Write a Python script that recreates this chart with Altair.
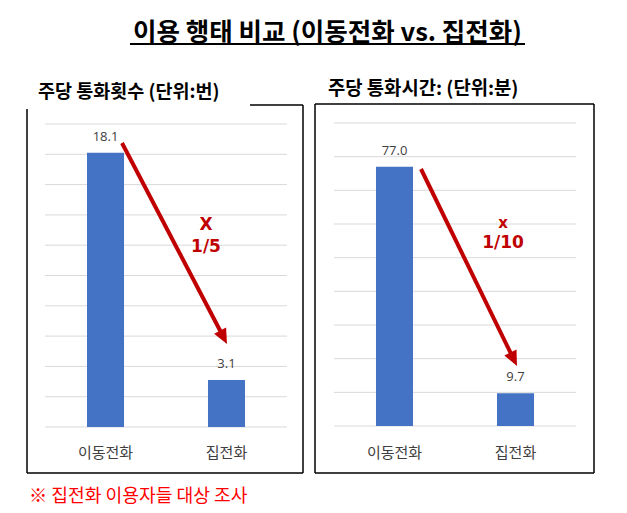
import altair as alt
import pandas as pd

# ---- data ----
categories = ["이동전화", "집전화"]
calls_per_week = [18.1, 3.1]
minutes_per_week = [77.0, 9.7]
calls_ticks = [0, 2, 4, 6, 8, 10, 12, 14, 16, 18, 20]
minutes_ticks = [0, 10, 20, 30, 40, 50, 60, 70, 80, 90]

main_title = "이용 행태 비교 (이동전화 vs. 집전화)"
left_title = "주당 통화횟수 (단위:번)"
right_title = "주당 통화시간: (단위:분)"
left_note = ["X", "1/5"]
right_note = ["x", "1/10"]
footnote = "※ 집전화 이용자들 대상 조사"

BLUE = "#4472C4"
DARKRED = "#C00000"
GRID = "#D9D9D9"
KR = "Noto Sans CJK KR"

one = pd.DataFrame({"d": [0]})


def panel(values, ticks, xr, yr, dmax):
    df = pd.DataFrame({"cat": categories, "val": values,
                       "lab": [f"{v:.1f}" for v in values]})
    tdf = pd.DataFrame({"t": ticks})
    xs = alt.Scale(domain=categories, range=xr, paddingInner=0.694, paddingOuter=0.347)
    ys = alt.Scale(domain=[0, dmax], range=yr, nice=False, zero=True)
    grid = alt.Chart(tdf).mark_rule(color=GRID, strokeWidth=1).encode(
        y=alt.Y("t:Q", scale=ys, axis=None),
        x=alt.value(xr[0]), x2=alt.value(xr[1]))
    bars = alt.Chart(df).mark_bar(color=BLUE).encode(
        x=alt.X("cat:N", scale=xs, axis=None, sort=categories),
        y=alt.Y("val:Q", scale=ys, axis=None))
    labels = alt.Chart(df).mark_text(font="Open Sans", fontSize=13, color="#404040",
                                     baseline="middle", dy=-16).encode(
        x=alt.X("cat:N", scale=xs, axis=None, sort=categories),
        y=alt.Y("val:Q", scale=ys, axis=None),
        text="lab:N")
    cats = alt.Chart(df).mark_text(font=KR, fontSize=15, color="#404040",
                                   baseline="middle").encode(
        x=alt.X("cat:N", scale=xs, axis=None, sort=categories),
        y=alt.value(445),
        text="cat:N")
    return alt.layer(grid, bars, labels, cats)


left = panel(calls_per_week, calls_ticks, [37, 279], [419, 116], 20)
right = panel(minutes_per_week, minutes_ticks, [326, 568], [418, 115], 90)


def rule(x, y, x2, y2, color="black", w=1.5):
    return alt.Chart(one).mark_rule(color=color, strokeWidth=w, strokeCap="butt").encode(
        x=alt.value(x), y=alt.value(y), x2=alt.value(x2), y2=alt.value(y2))


def text(s, x, y, size, color="black", weight="normal", align="center", font=KR, baseline="middle"):
    return alt.Chart(pd.DataFrame({"s": [s]})).mark_text(
        font=font, fontSize=size, color=color, fontWeight=weight,
        align=align, baseline=baseline).encode(
        x=alt.value(x), y=alt.value(y), text="s:N")


arrow_path = "M0,0L-0.45,-1L0.45,-1Z"


def head(x, y, angle):
    return alt.Chart(one).mark_point(shape=arrow_path, size=900, angle=angle, filled=True,
                                     color=DARKRED, opacity=1, strokeWidth=0).encode(
        x=alt.value(x), y=alt.value(y))


deco = [
    # left box (top border interrupted by the panel title)
    rule(19, 101, 19, 465), rule(295, 97, 295, 465), rule(19, 465, 295, 465), rule(242, 97, 295, 97),
    # right box
    rule(307, 96, 307, 465), rule(586, 96, 586, 465), rule(307, 465, 586, 465), rule(307, 96, 586, 96),
    # titles
    text(main_title, 319.5, 33, 25.5, weight="bold", baseline="alphabetic"),
    rule(122, 36, 517, 36, w=2),
    text(left_title, 30, 90, 18.5, weight="bold", align="left", baseline="alphabetic"),
    text(right_title, 320, 87, 18.8, weight="bold", align="left", baseline="alphabetic"),
    # arrows
    rule(114, 135, 213.5, 325.3, color=DARKRED, w=4), head(219, 336, 332.6),
    rule(413, 161, 503.7, 347.2, color=DARKRED, w=4), head(509, 358, 334.0),
    text(left_note[0], 198, 217, 17, color=DARKRED, weight="bold", font="DejaVu Sans"),
    text(left_note[1], 198, 239, 17, color=DARKRED, weight="bold", font="DejaVu Sans"),
    text(right_note[0], 495, 215, 15, color=DARKRED, weight="bold", font="DejaVu Sans"),
    text(right_note[1], 495, 235, 17, color=DARKRED, weight="bold", font="DejaVu Sans"),
    # footnote
    text(footnote, 21, 489, 18.2, color="#FF0000", align="left"),
]

chart = alt.layer(left, right, *deco).resolve_scale(x="independent", y="independent").properties(
    width=611, height=505, autosize=alt.AutoSizeParams(type="none"), padding=0,
    background="white"
).configure_view(stroke=None)

chart.save("out.html", embed_options={"renderer": "svg", "actions": False})
